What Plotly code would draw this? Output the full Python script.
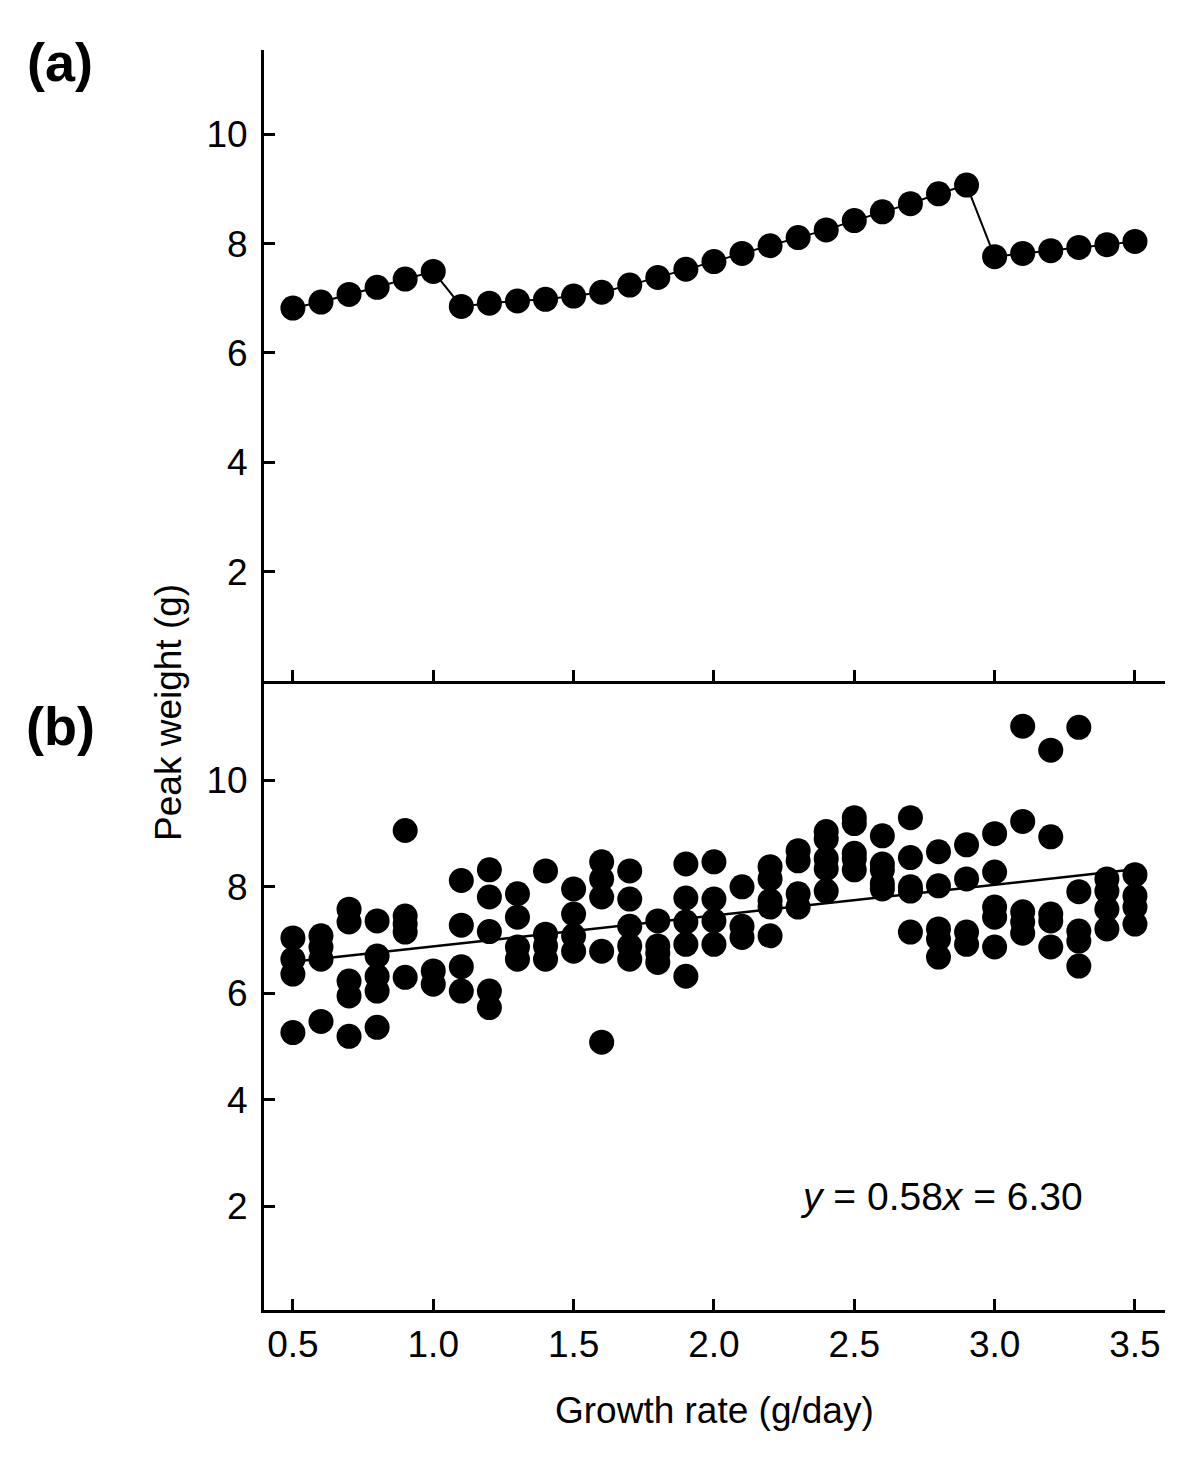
import plotly.graph_objects as go

# ---------------- data ----------------
# Panel (a): model prediction
growth_a = [0.5, 0.6, 0.7, 0.8, 0.9, 1.0, 1.1, 1.2, 1.3, 1.4, 1.5, 1.6, 1.7, 1.8, 1.9,
            2.0, 2.1, 2.2, 2.3, 2.4, 2.5, 2.6, 2.7, 2.8, 2.9, 3.0, 3.1, 3.2, 3.3, 3.4, 3.5]
peak_a = [6.82, 6.93, 7.07, 7.20, 7.35, 7.49, 6.85, 6.91, 6.95, 6.98, 7.04, 7.11, 7.24, 7.38, 7.53,
          7.67, 7.82, 7.96, 8.11, 8.25, 8.42, 8.58, 8.73, 8.91, 9.07, 7.76, 7.82, 7.87, 7.93, 7.98, 8.04]

# Panel (b): observations, grouped by growth rate
growth_b_levels = [0.5, 0.6, 0.7, 0.8, 0.9, 1.0, 1.1, 1.2, 1.3, 1.4, 1.5, 1.6, 1.7, 1.8, 1.9,
                   2.0, 2.1, 2.2, 2.3, 2.4, 2.5, 2.6, 2.7, 2.8, 2.9, 3.0, 3.1, 3.2, 3.3, 3.4, 3.5]
peak_b_groups = [
    [7.04, 6.64, 6.36, 5.26],
    [7.08, 6.87, 6.64, 5.47],
    [7.58, 7.34, 6.23, 5.95, 5.19],
    [7.36, 6.70, 6.32, 6.04, 5.36],
    [9.06, 7.45, 7.30, 7.15, 6.30],
    [6.42, 6.17],
    [8.12, 7.28, 6.50, 6.04],
    [8.32, 7.81, 7.16, 6.04, 5.73],
    [7.87, 7.43, 6.87, 6.64],
    [8.30, 7.11, 6.89, 6.64],
    [7.96, 7.49, 7.08, 6.79],
    [8.47, 8.15, 7.81, 6.79, 5.08],
    [8.30, 7.77, 7.26, 6.89, 6.64],
    [7.36, 6.89, 6.75, 6.58],
    [8.43, 7.79, 7.34, 6.92, 6.32],
    [8.47, 7.77, 7.36, 6.92],
    [8.00, 7.26, 7.05],
    [8.38, 8.15, 7.74, 7.62, 7.08],
    [8.68, 8.49, 7.87, 7.62],
    [9.04, 8.90, 8.53, 8.34, 7.92],
    [9.30, 9.19, 8.63, 8.53, 8.32],
    [8.96, 8.43, 8.32, 8.06, 7.96],
    [9.30, 8.55, 8.00, 7.92, 7.15],
    [8.66, 8.02, 7.21, 7.02, 6.68],
    [8.79, 8.15, 7.15, 6.92],
    [9.00, 8.28, 7.62, 7.43, 6.87],
    [11.02, 9.23, 7.53, 7.34, 7.13],
    [10.57, 8.94, 7.49, 7.36, 6.87],
    [11.00, 7.91, 7.17, 6.98, 6.51],
    [8.15, 7.92, 7.58, 7.21],
    [8.23, 7.83, 7.62, 7.30],
]

fit_slope = 0.58
fit_intercept = 6.30
fit_x = [0.5, 3.5]

x_ticks = [0.5, 1.0, 1.5, 2.0, 2.5, 3.0, 3.5]
x_ticklabels = ["0.5", "1.0", "1.5", "2.0", "2.5", "3.0", "3.5"]
y_ticks = [2, 4, 6, 8, 10]

# ---------------- build ----------------
xb, yb = [], []
for gx, ys in zip(growth_b_levels, peak_b_groups):
    for v in ys:
        xb.append(gx)
        yb.append(v)
fit_y = [fit_slope * v + fit_intercept for v in fit_x]

FONT = "Liberation Sans, Arial, Helvetica, sans-serif"
FS = 37

fig = go.Figure()
fig.add_trace(go.Scatter(x=growth_a, y=peak_a, mode="lines+markers",
                         line=dict(color="black", width=2),
                         marker=dict(color="black", size=25),
                         xaxis="x2", yaxis="y2", showlegend=False))
fig.add_trace(go.Scatter(x=fit_x, y=fit_y, mode="lines",
                         line=dict(color="black", width=2.5),
                         xaxis="x", yaxis="y", showlegend=False))
fig.add_trace(go.Scatter(x=xb, y=yb, mode="markers",
                         marker=dict(color="black", size=25),
                         xaxis="x", yaxis="y", showlegend=False))

xr = [0.397, 3.607]
axis_common = dict(showgrid=False, zeroline=False, showline=True, linecolor="black",
                   linewidth=3, ticks="inside", ticklen=11, tickwidth=2.5, tickcolor="black",
                   tickfont=dict(family=FONT, size=FS, color="black"))

fig.update_layout(
    width=1200, height=1472,
    margin=dict(l=256, r=43, t=42, b=170),
    plot_bgcolor="white", paper_bgcolor="white",
    font=dict(family=FONT, size=FS, color="black"),
    xaxis=dict(domain=[0, 1], range=xr, anchor="y", tickvals=x_ticks, ticktext=x_ticklabels,
               ticklabelstandoff=0, **axis_common),
    yaxis=dict(domain=[0, 0.4992], range=[0.045, 11.87], anchor="x", tickvals=y_ticks,
               ticklabelstandoff=6, **axis_common),
    xaxis2=dict(domain=[0, 1], range=xr, anchor="y2", matches="x", tickvals=x_ticks,
                showticklabels=False, **axis_common),
    yaxis2=dict(domain=[0.4992, 1], range=[0, 11.54], anchor="x2", tickvals=y_ticks,
                ticklabelstandoff=6, **axis_common),
    annotations=[
        dict(text="Peak weight (g)", textangle=-90, xref="paper", yref="paper",
             x=-0.1066, y=0.4746, xanchor="center", yanchor="middle", showarrow=False,
             font=dict(family=FONT, size=FS, color="black")),
        dict(text="Growth rate (g/day)", xref="paper", yref="paper",
             x=0.5, y=-0.0794, xanchor="center", yanchor="middle", showarrow=False,
             font=dict(family=FONT, size=FS, color="black")),
        dict(text="<b>(a)</b>", xref="paper", yref="paper", x=-0.2264, y=0.9905,
             xanchor="center", yanchor="middle", showarrow=False,
             font=dict(family=FONT, size=54, color="black")),
        dict(text="<b>(b)</b>", xref="paper", yref="paper", x=-0.2264, y=0.4635,
             xanchor="center", yanchor="middle", showarrow=False,
             font=dict(family=FONT, size=54, color="black")),
        dict(text="<i>y</i> = 0.58<i>x</i> = 6.30", xref="x", yref="y", x=2.30, y=2.17,
             xanchor="left", yanchor="middle", showarrow=False,
             font=dict(family=FONT, size=39, color="black")),
    ],
)

fig.write_html("out.html")
